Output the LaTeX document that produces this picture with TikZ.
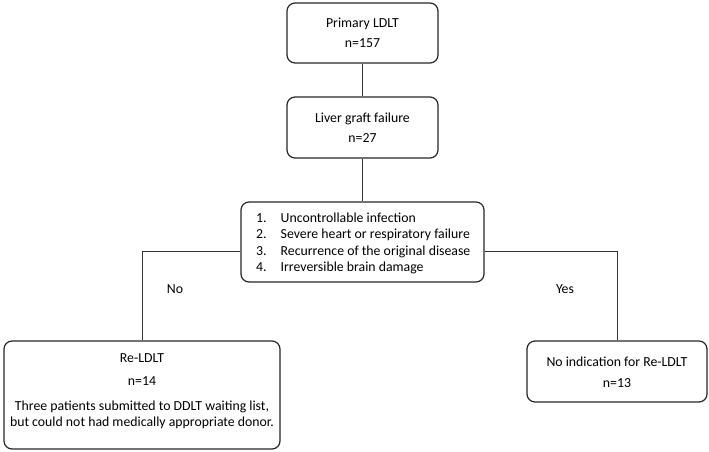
\documentclass[tikz,border=0pt]{standalone}
\usepackage{fontspec}
\setmainfont{Carlito}
\begin{document}
\begin{tikzpicture}[x=1pt,y=-1pt,
  box/.style={draw=black!85,line width=1.2pt,rounded corners=8pt,inner sep=0pt},
  conn/.style={draw=black!80,line width=1pt},
  txt/.style={font=\fontsize{13.8}{16}\selectfont,text=black,inner sep=0pt,anchor=base}]
\useasboundingbox (0,0) rectangle (709,452);
% boxes
\node[box,minimum width=151pt,minimum height=60pt] (b1) at (362.5,33) {};
\node[box,minimum width=151pt,minimum height=61pt] (b2) at (362.5,127.5) {};
\node[box,minimum width=243pt,minimum height=80pt] (b3) at (362.5,242) {};
\node[box,minimum width=276pt,minimum height=108pt] (b4) at (142,395) {};
\node[box,minimum width=180pt,minimum height=61pt] (b5) at (617,371.5) {};
% texts
\node[txt] (t1a) at (362.5,28) {Primary LDLT};
\node[txt] (t1b) at (362.5,48) {n=157};
\node[txt] (t2a) at (362.5,122) {Liver graft failure};
\node[txt] (t2b) at (362.5,142) {n=27};
\node[txt,anchor=base west] (t3a) at (256,222) {1.\hspace{14pt}Uncontrollable infection};
\node[txt,anchor=base west] (t3b) at (256,238.5) {2.\hspace{14pt}Severe heart or respiratory failure};
\node[txt,anchor=base west] (t3c) at (256,255) {3.\hspace{14pt}Recurrence of the original disease};
\node[txt,anchor=base west] (t3d) at (256,271.5) {4.\hspace{14pt}Irreversible brain damage};
\node[txt] (t4a) at (142,362) {Re-LDLT};
\node[txt] (t4b) at (142,385) {n=14};
\node[txt] (t4c) at (142,410) {Three patients submitted to DDLT waiting list,};
\node[txt] (t4d) at (142,426) {but could not had medically appropriate donor.};
\node[txt] (t5a) at (617,366) {No indication for Re-LDLT};
\node[txt] (t5b) at (617,387) {n=13};
\node[txt] (no) at (175,293) {No};
\node[txt] (yes) at (565,293) {Yes};
% connectors
\coordinate (L) at (142,251);
\coordinate (R) at (617,251);
\draw[conn] (b1.south) -- (b2.north);
\draw[conn] (b2.south) -- (b3.north);
\draw[conn] (b3.west |- L) -- (L) -- (b4.north);
\draw[conn] (b3.east |- R) -- (R) -- (b5.north);
\end{tikzpicture}
\end{document}
